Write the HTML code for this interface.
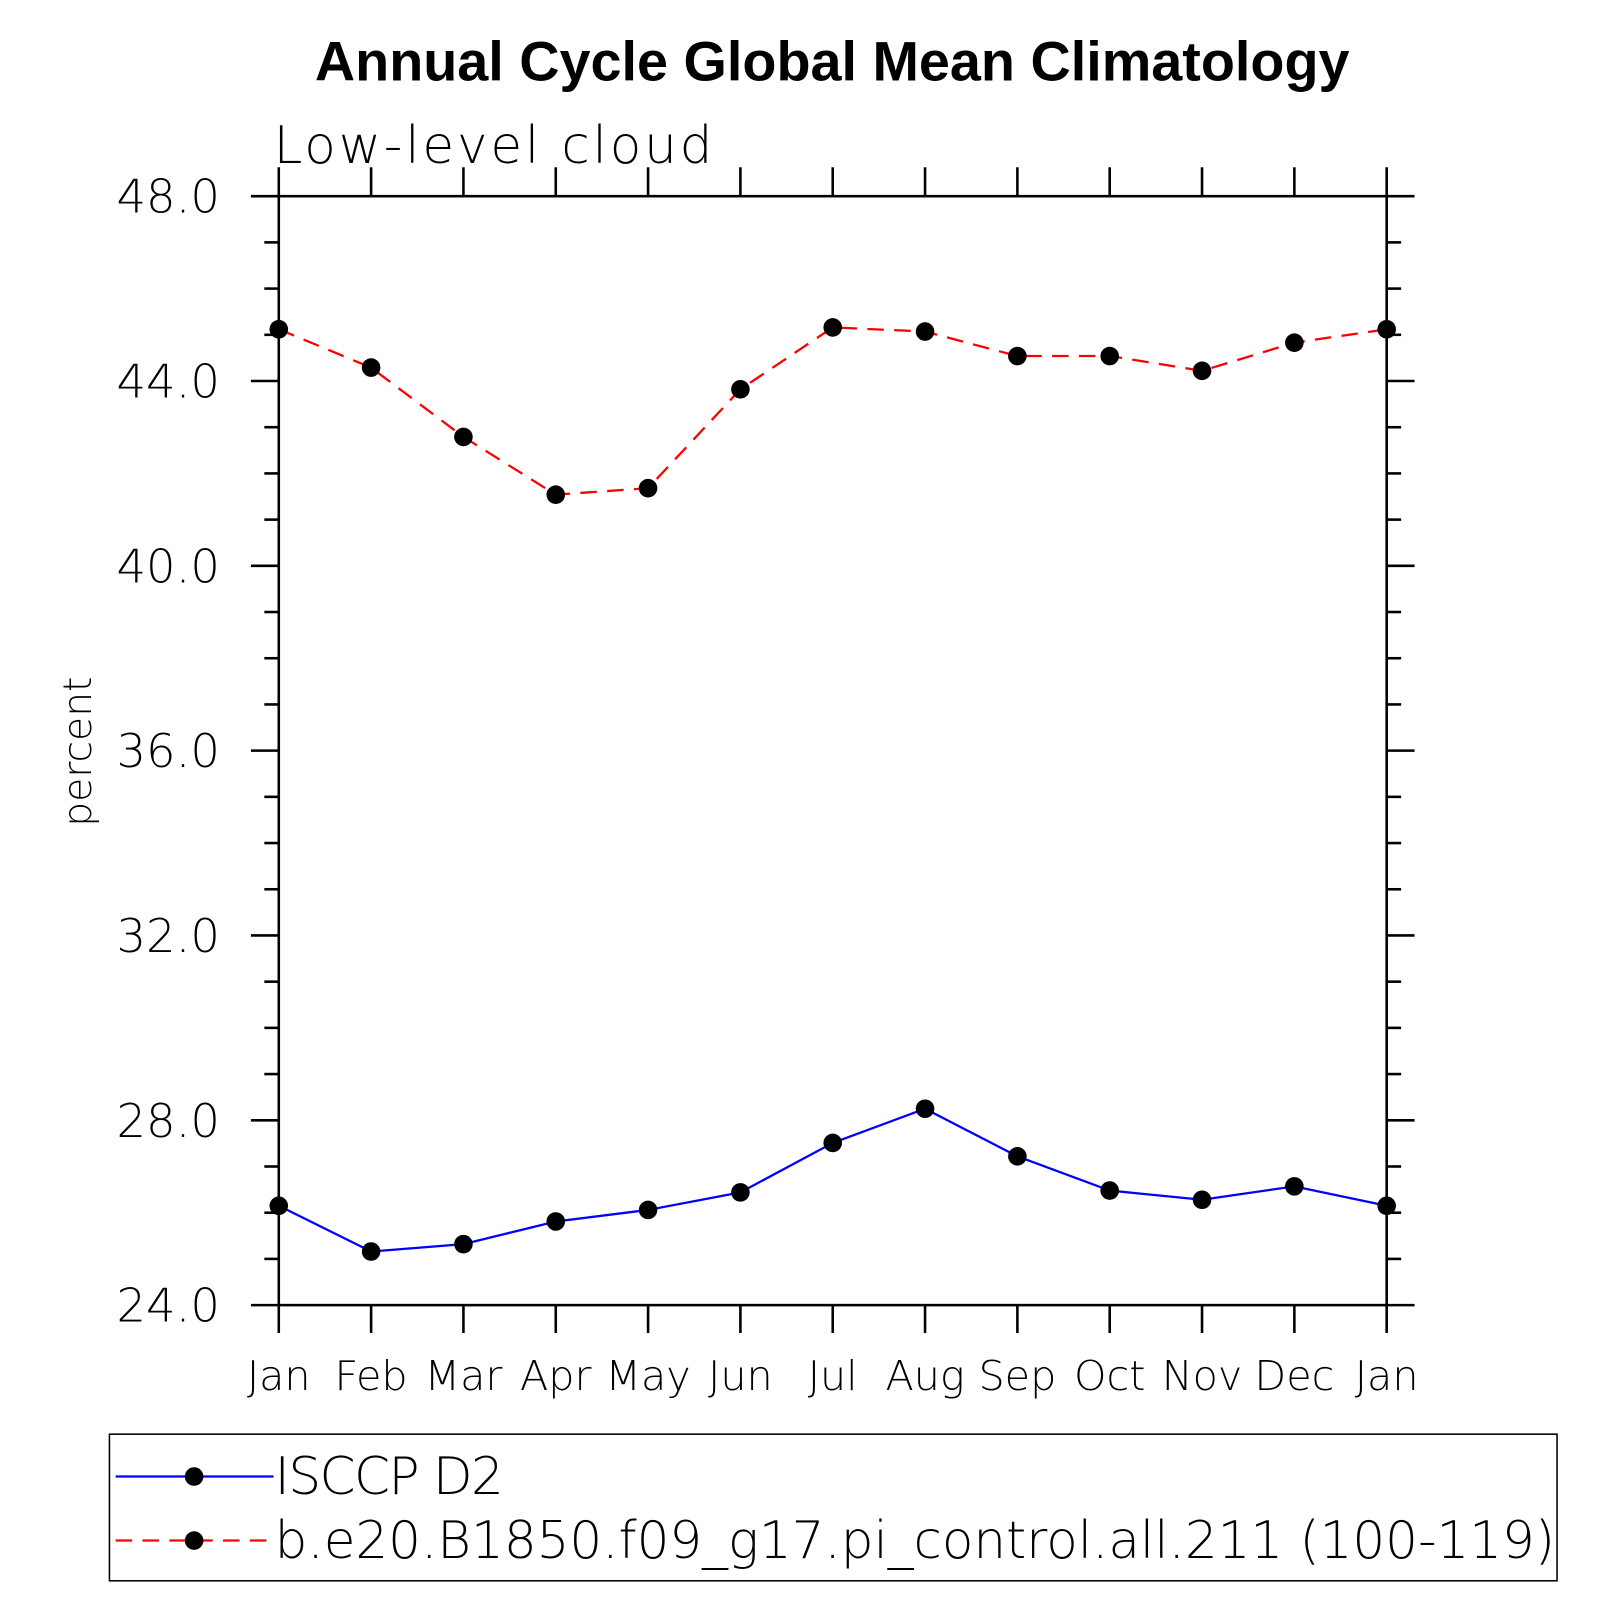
<!DOCTYPE html>
<html><head><meta charset="utf-8"><style>
html,body{margin:0;padding:0;background:#fff}
svg{display:block}
text{font-family:"Liberation Sans","DejaVu Sans",sans-serif}
.thin{font-family:'DejaVu Sans',sans-serif;font-weight:200}
</style></head><body>
<svg id="chart" width="1619" height="1619" viewBox="0 0 1568 1568" xmlns="http://www.w3.org/2000/svg">
<text x="806" y="78" text-anchor="middle" font-size="54" font-weight="bold">Annual Cycle Global Mean Climatology</text>
<text x="265" y="158" font-size="50" class="thin" textLength="425">Low-level cloud</text>
<text x="0" y="0" transform="translate(88,728) rotate(-90)" text-anchor="middle" font-size="38" class="thin">percent</text>
<g id="axes"></g>
<g id="series"></g>
<g>
<rect x="106" y="1389" width="1402" height="142" fill="none" stroke="#000" stroke-width="1.5"/>
<g>
<line x1="112" y1="1430" x2="265" y2="1430" stroke="#00f" stroke-width="2.2"/>
<circle cx="188" cy="1430" r="9" fill="#000"/>
<text x="266" y="1447" font-size="50" class="thin" textLength="222">ISCCP D2</text>
</g>
<g>
<line x1="112" y1="1492" x2="265" y2="1492" stroke="#f00" stroke-width="2.2" stroke-dasharray="16,10"/>
<circle cx="188" cy="1492" r="9" fill="#000"/>
<text x="266" y="1509" font-size="50" textLength="1240" class="thin">b.e20.B1850.f09_g17.pi_control.all.211 (100-119)</text>
</g>
</g>
</svg>
<script>
const months = ["Jan","Feb","Mar","Apr","May","Jun","Jul","Aug","Sep","Oct","Nov","Dec","Jan"];
const yTicks = [24,28,32,36,40,44,48];
const yTickLabels = ["24.0","28.0","32.0","36.0","40.0","44.0","48.0"];
const isccp = [26.15,25.16,25.32,25.81,26.06,26.44,27.51,28.25,27.22,26.48,26.28,26.57,26.15];
const model = [45.12,44.29,42.79,41.54,41.68,43.82,45.16,45.07,44.54,44.54,44.22,44.83,45.12];

const NS="http://www.w3.org/2000/svg";
const X0=270,X1=1343,Y0=1264,Y1=190,YMIN=24,YMAX=48;
const xs=i=>X0+(X1-X0)*i/(months.length-1);
const ys=v=>Y0-(v-YMIN)/(YMAX-YMIN)*(Y0-Y1);
function mk(tag,attrs,parent){const e=document.createElementNS(NS,tag);for(const k in attrs)e.setAttribute(k,attrs[k]);parent.appendChild(e);return e;}
const axes=document.getElementById('axes');
const frame=mk('rect',{x:X0,y:Y1,width:X1-X0,height:Y0-Y1,fill:'none',stroke:'#000','stroke-width':2.5},axes);


const st={stroke:'#000','stroke-width':2.5};
months.forEach((m,i)=>{
  const x=xs(i);
  mk('line',Object.assign({x1:x,y1:Y0,x2:x,y2:Y0+27},st),axes);
  mk('line',Object.assign({x1:x,y1:Y1,x2:x,y2:Y1-28},st),axes);
  const t=mk('text',{x:x,y:1346,'text-anchor':'middle','font-size':40,'class':'thin'},axes);
  t.textContent=m;
  
  
});
for(let v=YMIN;v<=YMAX;v+=1){
  const y=ys(v);const major=(v%4===0);const L=major?27:14;
  mk('line',Object.assign({x1:X0-L,y1:y,x2:X0,y2:y},st),axes);
  mk('line',Object.assign({x1:X1,y1:y,x2:X1+L,y2:y},st),axes);
}
yTicks.forEach((v,i)=>{
  const t=mk('text',{x:213,y:ys(v)+16,'text-anchor':'end','font-size':45,'class':'thin'},axes);
  t.textContent=yTickLabels[i];
  
  
});
const ser=document.getElementById('series');
function draw(vals,color,dash,name){
  const g=mk('g',{},ser);
  
  
  const pts=vals.map((v,i)=>xs(i)+','+ys(v)).join(' ');
  const a={points:pts,fill:'none',stroke:color,'stroke-width':2.2};
  if(dash)a['stroke-dasharray']=dash;
  mk('polyline',a,g);
  vals.forEach((v,i)=>{
    const c=mk('circle',{cx:xs(i),cy:ys(v),r:9,fill:'#000'},g);
    
    
  });
}
draw(isccp,'#00f',null,'series-isccp');
draw(model,'#f00','16,10','series-model');
</script>
</body></html>
